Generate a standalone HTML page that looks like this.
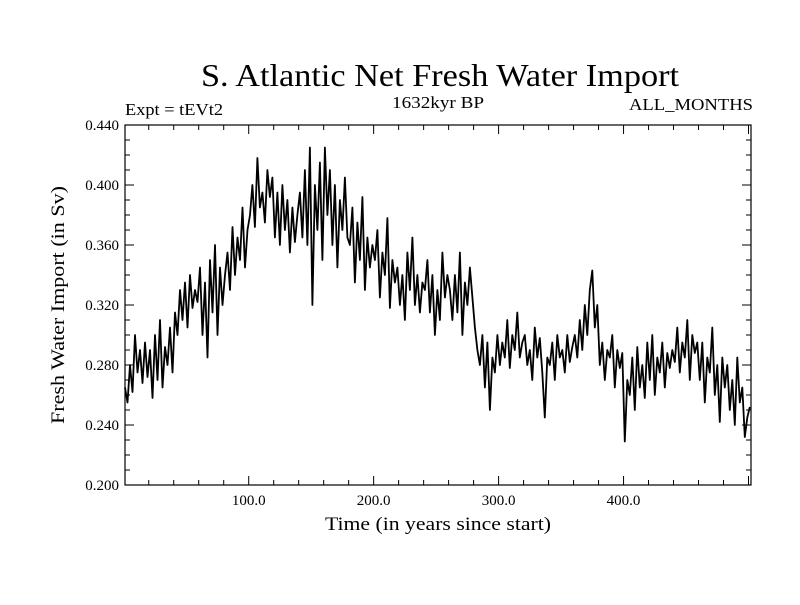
<!DOCTYPE html>
<html><head><meta charset="utf-8"><style>
body{margin:0;background:#fff;}
svg text{font-family:"Liberation Serif",serif;fill:#000;}
</style></head><body>
<svg width="800" height="600" xmlns="http://www.w3.org/2000/svg">
<rect width="800" height="600" fill="#fff"/>
<text x="440" y="86" font-size="32" text-anchor="middle" textLength="478" lengthAdjust="spacingAndGlyphs">S. Atlantic Net Fresh Water Import</text>
<text x="125" y="115" font-size="17" textLength="98" lengthAdjust="spacingAndGlyphs">Expt = tEVt2</text>
<text x="438" y="108" font-size="17" text-anchor="middle" textLength="92" lengthAdjust="spacingAndGlyphs">1632kyr BP</text>
<text x="753" y="110" font-size="17" text-anchor="end" textLength="124" lengthAdjust="spacingAndGlyphs">ALL_MONTHS</text>
<text transform="translate(64,305) rotate(-90)" font-size="19" text-anchor="middle" textLength="238" lengthAdjust="spacingAndGlyphs">Fresh Water Import (in Sv)</text>
<text x="438" y="530" font-size="19" text-anchor="middle" textLength="226" lengthAdjust="spacingAndGlyphs">Time (in years since start)</text>
<g id="axes"></g>
<path id="series" fill="none" stroke="#000" stroke-width="1.8" stroke-linejoin="round"/>
<rect x="125" y="125" width="626" height="360" fill="none" stroke="#000" stroke-width="1.2"/>
</svg>
<script>
const yTicks=[0.200,0.240,0.280,0.320,0.360,0.400,0.440];
const yTickLabels=["0.200","0.240","0.280","0.320","0.360","0.400","0.440"];
const xTicks=[100,200,300,400];
const xTickLabels=["100.0","200.0","300.0","400.0"];
const years=[];for(let t=1;t<=501;t+=2)years.push(t);
const values=[
0.265,0.255,0.280,0.262,0.300,0.275,0.290,0.268,0.295,0.272,
0.290,0.258,0.300,0.270,0.310,0.265,0.292,0.280,0.305,0.275,
0.315,0.300,0.330,0.310,0.335,0.305,0.340,0.318,0.330,0.322,
0.345,0.300,0.335,0.285,0.350,0.315,0.360,0.300,0.345,0.320,
0.340,0.355,0.330,0.372,0.340,0.365,0.350,0.385,0.345,0.370,
0.380,0.400,0.372,0.418,0.385,0.395,0.375,0.410,0.392,0.405,
0.365,0.395,0.360,0.400,0.370,0.390,0.355,0.385,0.362,0.380,
0.395,0.365,0.410,0.360,0.425,0.320,0.400,0.370,0.415,0.350,
0.425,0.380,0.410,0.360,0.400,0.345,0.390,0.370,0.405,0.365,
0.360,0.385,0.335,0.375,0.350,0.392,0.330,0.365,0.345,0.360,
0.350,0.370,0.325,0.355,0.340,0.378,0.318,0.350,0.335,0.345,
0.320,0.340,0.310,0.355,0.330,0.365,0.320,0.340,0.315,0.335,
0.330,0.350,0.315,0.340,0.300,0.330,0.310,0.355,0.325,0.340,
0.330,0.310,0.340,0.315,0.355,0.300,0.335,0.320,0.345,0.325,
0.305,0.290,0.280,0.300,0.265,0.295,0.250,0.285,0.275,0.300,
0.280,0.295,0.285,0.310,0.278,0.300,0.290,0.315,0.285,0.295,
0.300,0.280,0.290,0.270,0.305,0.285,0.298,0.275,0.245,0.285,
0.280,0.295,0.270,0.300,0.285,0.290,0.275,0.300,0.282,0.292,
0.300,0.285,0.310,0.290,0.320,0.300,0.330,0.343,0.305,0.320,
0.280,0.295,0.270,0.290,0.285,0.300,0.265,0.290,0.278,0.288,
0.229,0.270,0.260,0.285,0.250,0.292,0.265,0.280,0.258,0.295,
0.270,0.300,0.260,0.285,0.275,0.295,0.265,0.288,0.278,0.290,
0.282,0.305,0.275,0.295,0.285,0.310,0.270,0.300,0.288,0.295,
0.270,0.295,0.255,0.285,0.275,0.305,0.260,0.280,0.242,0.285,
0.265,0.280,0.250,0.270,0.240,0.285,0.255,0.265,0.232,0.245,0.252
];
const X0=1,X1=502,PX0=125,PX1=751,PY0=485,PY1=125,Y0=0.200,Y1=0.440;
const xs=t=>PX0+(t-X0)/(X1-X0)*(PX1-PX0);
const ys=v=>PY0-(v-Y0)/(Y1-Y0)*(PY0-PY1);
const NS="http://www.w3.org/2000/svg";
const ax=document.getElementById('axes');
function line(x1,y1,x2,y2,name){const l=document.createElementNS(NS,'line');l.setAttribute('x1',x1);l.setAttribute('y1',y1);l.setAttribute('x2',x2);l.setAttribute('y2',y2);l.setAttribute('stroke','#000');l.setAttribute('stroke-width','1');


ax.appendChild(l);}
function txt(x,y,s,anchor,name){const t=document.createElementNS(NS,'text');t.setAttribute('x',x);t.setAttribute('y',y);t.setAttribute('font-size','15');t.setAttribute('text-anchor',anchor);t.textContent=s;


ax.appendChild(t);}
for(let k=0;k<=24;k++){const v=0.200+k*0.010;const y=ys(v);const L=(k%4===0)?9:5;line(PX0,y,PX0+L,y,'y-tick');line(PX1,y,PX1-L,y,'y-tick-right');}
yTicks.forEach((v,i)=>txt(PX0-6,ys(v)+5,yTickLabels[i],'end','y-tick-label'));
for(let t=20;t<=500;t+=20){const x=xs(t);const major=t%100===0;const L=major?9:5;line(x,PY0,x,PY0-L,'x-tick');line(x,PY1,x,PY1+L,'x-tick-top');}
xTicks.forEach((t,i)=>txt(xs(t),PY0+20,xTickLabels[i],'middle','x-tick-label'));
let d='';years.forEach((t,i)=>{if(i<values.length)d+=(i?'L':'M')+xs(t).toFixed(1)+' '+ys(values[i]).toFixed(1);});
document.getElementById('series').setAttribute('d',d);
</script>
</body></html>
